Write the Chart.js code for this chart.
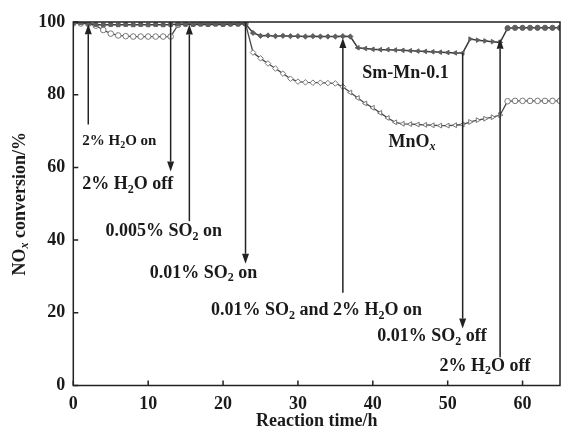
<!DOCTYPE html>
<html>
<head>
<meta charset="utf-8">
<script src="https://cdn.jsdelivr.net/npm/chart.js@4.4.0/dist/chart.umd.min.js"></script>
<style>
  html, body { margin: 0; padding: 0; background: #fff; }
  #wrap { width: 565px; height: 433px; }
</style>
</head>
<body>
<div id="wrap"><canvas id="conv"></canvas></div>
<script>
// reaction time (h) and NOx conversion (%) for both catalysts
const hours = [0, 1, 2, 3, 4, 5, 6, 7, 8, 9, 10, 11, 12, 13, 14, 15, 16, 17, 18, 19, 20, 21, 22,
  23, 24, 25, 26, 27, 28, 29, 30, 31, 32, 33, 34, 35, 36, 37, 38, 39, 40, 41, 42, 43, 44,
  45, 46, 47, 48, 49, 50, 51, 52, 53, 54, 55, 56, 57, 58, 59, 60, 61, 62, 63, 64, 65];

const smMn = [99.8, 99.8, 99.6, 99.3, 99.2, 99.3, 99.2, 99.3, 99.2, 99.3, 99.2, 99.3, 99.2, 99.3,
  99.4, 99.4, 99.3, 99.4, 99.3, 99.4, 99.3, 99.4, 99.4, 99.5, 97.0, 96.2, 96.3, 96.1, 96.2, 96.1,
  96.1, 96.0, 96.1, 96.0, 96.0, 96.0, 96.1, 96.0, 92.9, 92.7, 92.5, 92.4, 92.4, 92.3, 92.2, 92.1,
  92.0, 91.9, 91.8, 91.7, 91.6, 91.5, 91.5, 95.3, 95.0, 94.8, 94.6, 94.4, 98.3, 98.4, 98.4, 98.4,
  98.4, 98.4, 98.4, 98.4];

const mnOx = [99.6, 99.6, 99.5, 99.0, 97.8, 96.8, 96.3, 96.1, 96.0, 96.0, 96.0, 96.0, 96.0, 96.0,
  99.2, 99.5, 99.6, 99.6, 99.6, 99.6, 99.6, 99.6, 99.6, 99.6, 91.6, 90.0, 88.6, 87.2, 85.8, 84.4,
  83.6, 83.4, 83.3, 83.3, 83.2, 83.1, 82.2, 80.6, 79.1, 77.6, 76.4, 75.0, 73.6, 72.4, 72.0, 71.9,
  71.8, 71.7, 71.6, 71.5, 71.5, 71.6, 71.8, 72.5, 73.0, 73.4, 73.8, 74.4, 78.2, 78.3, 78.3, 78.3,
  78.3, 78.3, 78.3, 78.3];

const xTickValues = [0, 10, 20, 30, 40, 50, 60];
const yTickValues = [0, 20, 40, 60, 80, 100];

// gas switching events: time, arrow tail and tip (conversion %)
const eventTimes = [2, 13, 15.5, 23, 36, 52, 57];
const eventTails = [71.8, 100, 45.2, 100, 25.5, 91.5, 7.8];
const eventTips = [99.4, 58.9, 99.3, 33.5, 95.6, 15.7, 95.4];

// text notes, "_c" puts c in subscript (letters italic)
const notes = [
  { text: '2% H_2O on', t: 1.2, v: 67.2, size: 15 },
  { text: '2% H_2O off', t: 1.2, v: 55.3, size: 18 },
  { text: '0.005% SO_2 on', t: 4.3, v: 42.4, size: 18 },
  { text: '0.01% SO_2 on', t: 10.2, v: 30.9, size: 18 },
  { text: '0.01% SO_2 and 2% H_2O on', t: 18.4, v: 20.6, size: 18 },
  { text: '0.01% SO_2 off', t: 40.6, v: 13.5, size: 18 },
  { text: '2% H_2O off', t: 48.9, v: 5.4, size: 18 },
  { text: 'Sm-Mn-0.1', t: 38.6, v: 86.0, size: 18 },
  { text: 'MnO_x', t: 42.1, v: 67.0, size: 18 }
];

const SERIF = "'Liberation Serif', 'Times New Roman', serif";

// marker shape per test stage
const stageShapes = [
  { style: 'rect', rot: 0 },
  { style: 'rectRot', rot: 0 },
  { style: 'triangle', rot: -90 },
  { style: 'triangle', rot: 90 },
  { style: 'circle', rot: 0 }
];
function stageOf(t, starts) {
  let s = 0;
  starts.forEach((st, i) => { if (t >= st) s = i; });
  return s;
}
const smStarts = [0, 24, 38, 53, 58];
const mnStarts = [0, 24, 37, 53, 58];

function richPieces(text) {
  const out = [];
  let buf = '';
  for (let i = 0; i < text.length; i++) {
    if (text[i] === '_' && i + 1 < text.length) {
      if (buf) out.push({ s: buf, sub: false });
      buf = '';
      out.push({ s: text[i + 1], sub: true, it: /[a-z]/i.test(text[i + 1]) });
      i++;
    } else {
      buf += text[i];
    }
  }
  if (buf) out.push({ s: buf, sub: false });
  return out;
}

function fontFor(p, size) {
  const sz = p.sub ? Math.round(size * 0.68) : size;
  return (p.it ? 'italic ' : '') + 'bold ' + sz + 'px ' + SERIF;
}

// draws text with subscripts; x is left edge (or centre), y is middle
function drawRich(ctx, text, x, y, size, center) {
  const parts = richPieces(text);
  let w = 0;
  parts.forEach(p => { ctx.font = fontFor(p, size); p.w = ctx.measureText(p.s).width; w += p.w; });
  let cx = center ? x - w / 2 : x;
  ctx.textBaseline = 'middle';
  ctx.textAlign = 'left';
  parts.forEach(p => {
    ctx.font = fontFor(p, size);
    ctx.fillText(p.s, cx, p.sub ? y + size * 0.28 : y);
    cx += p.w;
  });
}

function drawArrow(ctx, x, y0, y1) {
  const dir = y1 > y0 ? 1 : -1;
  const head = 10, half = 3.5;
  ctx.beginPath();
  ctx.moveTo(x, y0);
  ctx.lineTo(x, y1 - dir * head);
  ctx.stroke();
  ctx.beginPath();
  ctx.moveTo(x, y1);
  ctx.lineTo(x - half, y1 - dir * head);
  ctx.lineTo(x + half, y1 - dir * head);
  ctx.closePath();
  ctx.fill();
}

const decor = {
  id: 'decor',
  afterDatasetsDraw(chart) {
    const { ctx, chartArea: a, scales: { x, y } } = chart;
    ctx.save();
    ctx.strokeStyle = '#222';
    ctx.fillStyle = '#222';
    ctx.lineWidth = 1.5;
    ctx.strokeRect(a.left, a.top, a.right - a.left, a.bottom - a.top);

    // ticks pointing into the plot
    ctx.beginPath();
    xTickValues.forEach(v => {
      const px = x.getPixelForValue(v);
      ctx.moveTo(px, a.bottom);
      ctx.lineTo(px, a.bottom - 5);
    });
    yTickValues.forEach(v => {
      const py = y.getPixelForValue(v);
      ctx.moveTo(a.left, py);
      ctx.lineTo(a.left + 5, py);
    });
    ctx.stroke();

    eventTimes.forEach((t, i) => {
      drawArrow(ctx, x.getPixelForValue(t), y.getPixelForValue(eventTails[i]), y.getPixelForValue(eventTips[i]));
    });

    ctx.fillStyle = '#1a1a1a';
    notes.forEach(n => drawRich(ctx, n.text, x.getPixelForValue(n.t), y.getPixelForValue(n.v), n.size, false));

    // axis titles
    drawRich(ctx, 'Reaction time/h', (a.left + a.right) / 2, 421, 18, true);
    ctx.translate(20, (a.top + a.bottom) / 2);
    ctx.rotate(-Math.PI / 2);
    drawRich(ctx, 'NO_x conversion/%', 0, 0, 18, true);
    ctx.restore();
  }
};

function series(values) {
  return values.map((v, i) => ({ x: hours[i], y: v }));
}

new Chart(document.getElementById('conv'), {
  type: 'line',
  data: {
    datasets: [{
      label: 'Sm-Mn-0.1',
      data: series(smMn),
      borderColor: '#3a3a3a',
      borderWidth: 1.5,
      backgroundColor: '#5e5e5e',
      pointBorderColor: '#5e5e5e',
      pointBorderWidth: 1,
      pointRadius: 2.6,
      pointStyle: c => stageShapes[stageOf(c.raw ? c.raw.x : 0, smStarts)].style,
      pointRotation: c => stageShapes[stageOf(c.raw ? c.raw.x : 0, smStarts)].rot,
      tension: 0
    }, {
      label: 'MnOx',
      data: series(mnOx),
      borderColor: '#4a4a4a',
      borderWidth: 1.3,
      backgroundColor: '#ffffff',
      pointBorderColor: '#777',
      pointBorderWidth: 1,
      pointRadius: 2.8,
      pointStyle: c => {
        const s = stageOf(c.raw ? c.raw.x : 0, mnStarts);
        return s === 0 ? 'circle' : stageShapes[s].style;
      },
      pointRotation: c => stageShapes[stageOf(c.raw ? c.raw.x : 0, mnStarts)].rot,
      tension: 0
    }]
  },
  options: {
    responsive: true,
    maintainAspectRatio: false,
    animation: false,
    layout: { padding: { top: 22, right: 2, left: 0, bottom: 0 } },
    plugins: { legend: { display: false }, tooltip: { enabled: false } },
    scales: {
      x: {
        type: 'linear',
        min: 0,
        max: 65,
        grid: { display: false, drawTicks: false },
        border: { display: false },
        ticks: {
          stepSize: 10,
          includeBounds: false,
          padding: 8,
          color: '#1a1a1a',
          font: { family: SERIF, size: 18, weight: 'bold' }
        },
        afterFit: s => { s.height = 47.5; }
      },
      y: {
        min: 0,
        max: 100,
        grid: { display: false, drawTicks: false },
        border: { display: false },
        ticks: {
          stepSize: 20,
          padding: 8,
          color: '#1a1a1a',
          font: { family: SERIF, size: 18, weight: 'bold' }
        },
        afterFit: s => { s.width = 73.3; }
      }
    }
  },
  plugins: [decor]
});
</script>
</body>
</html>
